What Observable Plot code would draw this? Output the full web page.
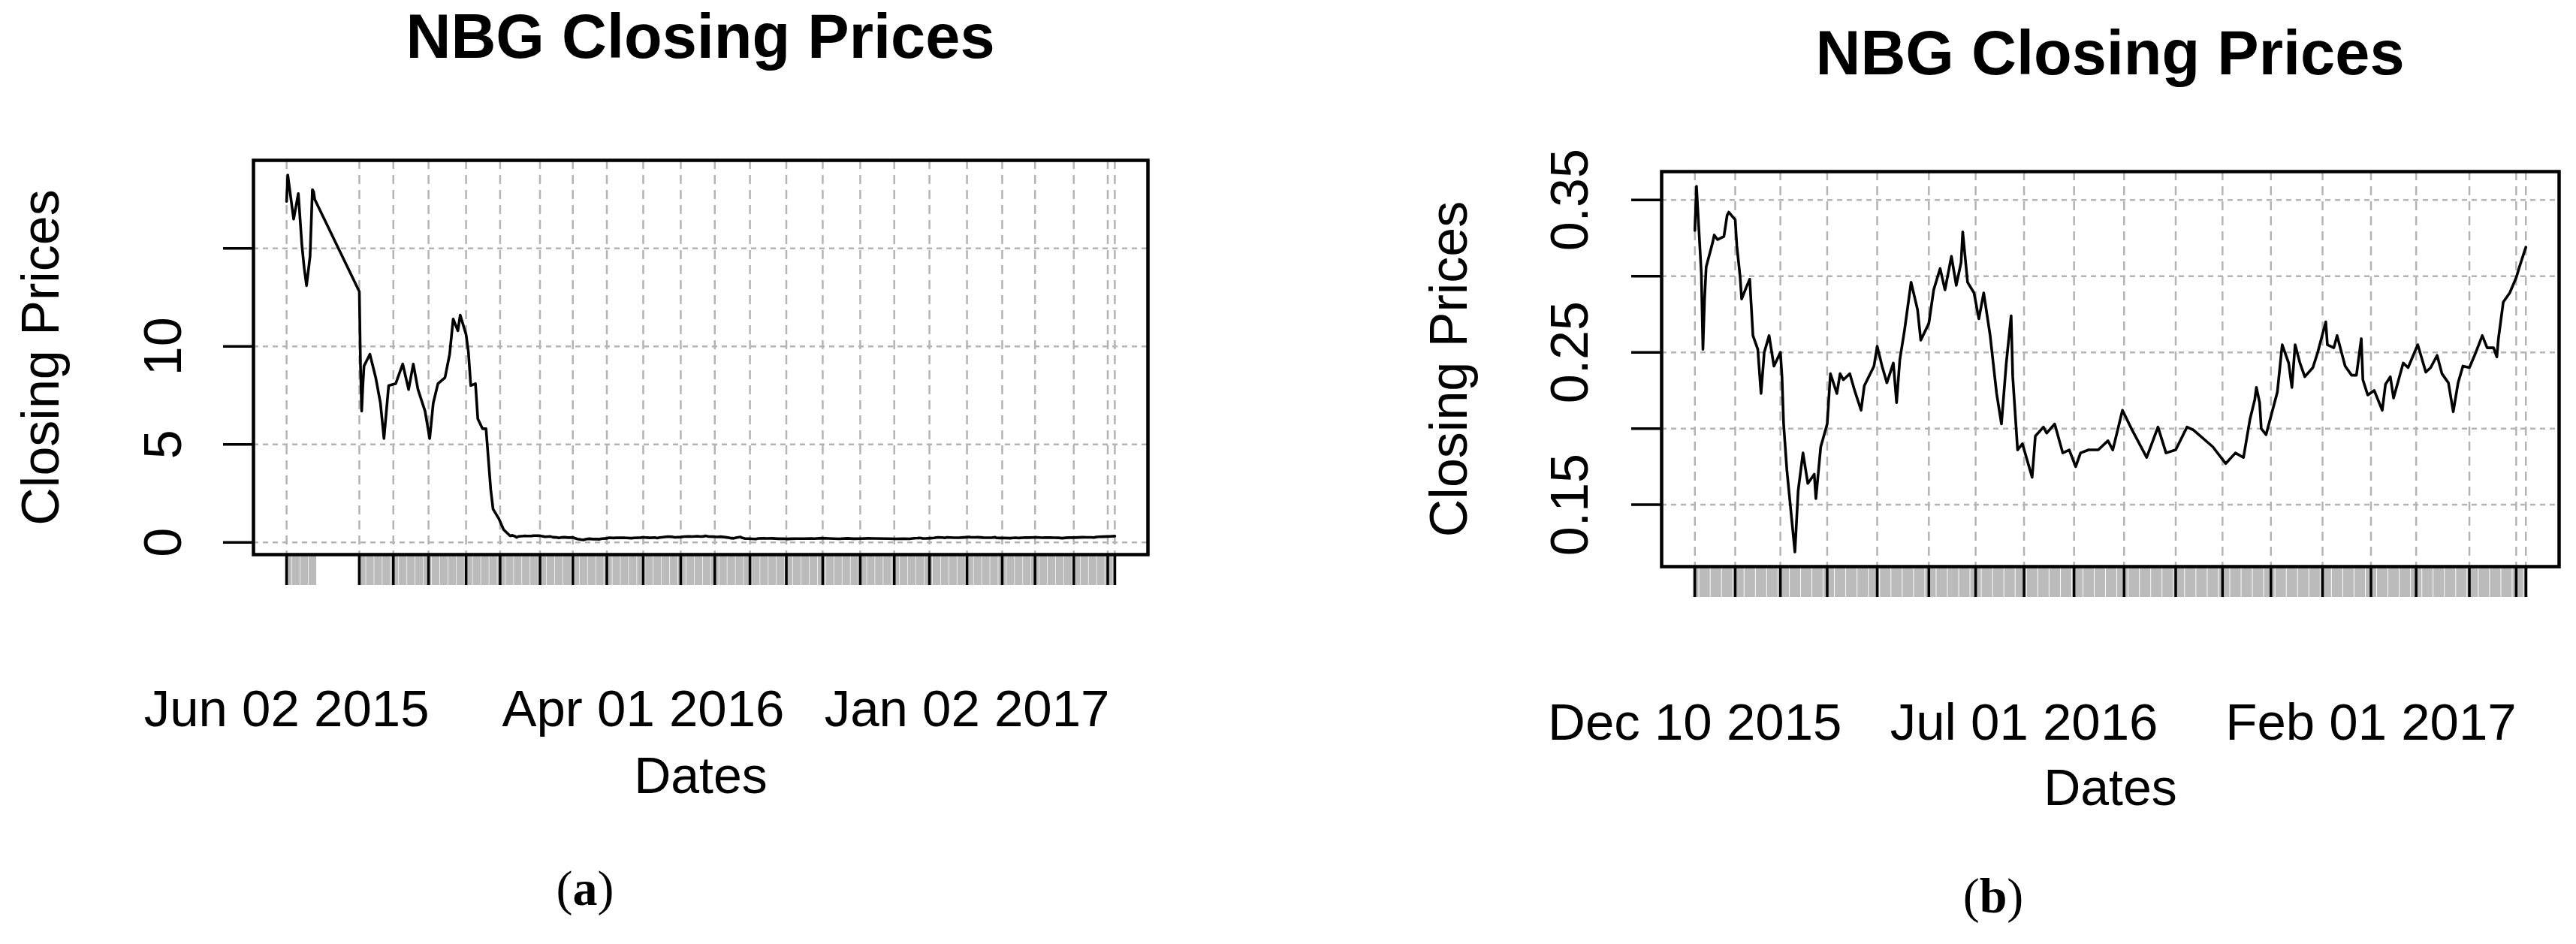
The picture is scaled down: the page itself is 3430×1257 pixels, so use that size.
<!DOCTYPE html>
<html><head><meta charset="utf-8">
<script src="https://cdn.jsdelivr.net/npm/d3@7"></script>
<script src="https://cdn.jsdelivr.net/npm/@observablehq/plot@0.6"></script>
<style>
html,body{margin:0;padding:0;background:#fff;}
#root{position:relative;width:3430px;height:1257px;background:#fff;overflow:hidden;font-family:"Liberation Sans",Arial,sans-serif;}
.title{position:absolute;text-align:center;font-weight:bold;font-size:83px;line-height:83px;color:#000;white-space:nowrap;}
.cap{position:absolute;font-family:"Liberation Serif","Times New Roman",serif;font-size:66px;line-height:66px;color:#000;text-align:center;width:200px;}
.chart{position:absolute;}
</style></head>
<body><div id="root">
<div class="title" style="left:337px;width:1191px;top:7px;">NBG Closing Prices</div>
<div class="title" style="left:2212px;width:1195px;top:29px;">NBG Closing Prices</div>
<div class="chart" id="chartA" style="left:0;top:120px;width:1640px;height:960px;"></div>
<div class="chart" id="chartB" style="left:1700px;top:120px;width:1730px;height:960px;"></div>
<div class="cap" style="left:679px;top:1150px;">(<b>a</b>)</div>
<div class="cap" style="left:2554px;top:1160px;">(<b>b</b>)</div>
</div>
<script>
const yTitle = "Closing Prices";
const xTitle = "Dates";

// Panel (a): closing prices before 10 Dec 2015 (continues with the panel (b) series)
const datesA = ["2015-06-02","2015-06-03","2015-06-08","2015-06-12","2015-06-15","2015-06-17","2015-06-19","2015-06-22","2015-06-24","2015-06-25","2015-06-26",
"2015-08-03","2015-08-04","2015-08-05","2015-08-06","2015-08-07","2015-08-12","2015-08-17","2015-08-21","2015-08-24","2015-08-28",
"2015-09-03","2015-09-09","2015-09-14","2015-09-18","2015-09-22","2015-09-28",
"2015-10-02","2015-10-05","2015-10-09","2015-10-15","2015-10-19","2015-10-22","2015-10-26","2015-10-28",
"2015-11-02","2015-11-04","2015-11-06","2015-11-10","2015-11-12","2015-11-16","2015-11-19","2015-11-23","2015-11-25","2015-11-30",
"2015-12-04","2015-12-09"];
const closeA = [17.4,18.75,16.5,17.8,15.2,14.0,13.1,14.6,18.0,17.9,17.5,
12.8,9.0,6.7,8.0,9.0,9.6,8.4,7.1,5.3,8.0,
8.1,9.1,7.8,9.1,7.8,6.7,
5.3,7.1,8.1,8.4,9.6,11.4,10.8,11.6,
10.6,9.7,8.0,8.1,6.3,5.8,5.8,2.7,1.7,1.2,
0.65,0.36];

// Panel (b): closing prices from 10 Dec 2015
const datesB = ["2015-12-10","2015-12-11","2015-12-14","2015-12-15","2015-12-16","2015-12-17","2015-12-21","2015-12-22","2015-12-24","2015-12-28","2015-12-30","2015-12-31",
"2016-01-04","2016-01-05","2016-01-07","2016-01-08","2016-01-11","2016-01-13","2016-01-15","2016-01-18","2016-01-20","2016-01-22","2016-01-25","2016-01-28",
"2016-02-01","2016-02-02","2016-02-03","2016-02-05","2016-02-10","2016-02-12","2016-02-15","2016-02-18","2016-02-22","2016-02-23","2016-02-26",
"2016-03-01","2016-03-03","2016-03-07","2016-03-09","2016-03-11","2016-03-15","2016-03-18","2016-03-22","2016-03-24","2016-03-30",
"2016-04-01","2016-04-04","2016-04-07","2016-04-11","2016-04-13","2016-04-15","2016-04-18","2016-04-22","2016-04-26","2016-04-28",
"2016-05-03","2016-05-06","2016-05-10","2016-05-13","2016-05-17","2016-05-20","2016-05-23","2016-05-24","2016-05-27","2016-05-31",
"2016-06-03","2016-06-06","2016-06-10","2016-06-14","2016-06-17","2016-06-20","2016-06-23","2016-06-24","2016-06-27","2016-06-30",
"2016-07-06","2016-07-08","2016-07-13","2016-07-15","2016-07-20","2016-07-25","2016-07-29",
"2016-08-02","2016-08-05","2016-08-10","2016-08-16","2016-08-22","2016-08-25","2016-08-31",
"2016-09-06","2016-09-15","2016-09-22","2016-09-27",
"2016-10-03","2016-10-10","2016-10-14","2016-10-26",
"2016-11-03","2016-11-09","2016-11-14","2016-11-18","2016-11-21","2016-11-22","2016-11-24","2016-11-25","2016-11-28",
"2016-12-02","2016-12-05","2016-12-08","2016-12-12","2016-12-14","2016-12-16","2016-12-19","2016-12-22","2016-12-27","2016-12-30",
"2017-01-04","2017-01-05","2017-01-09","2017-01-11","2017-01-16","2017-01-20","2017-01-23","2017-01-26","2017-01-27","2017-01-30",
"2017-02-03","2017-02-08","2017-02-10","2017-02-13","2017-02-15","2017-02-21","2017-02-24",
"2017-03-02","2017-03-07","2017-03-10","2017-03-14","2017-03-17","2017-03-21","2017-03-24","2017-03-27","2017-03-30",
"2017-04-03","2017-04-07","2017-04-11","2017-04-14","2017-04-18","2017-04-20","2017-04-21","2017-04-24","2017-04-28",
"2017-05-02","2017-05-04","2017-05-08"];
const closeB = [0.330,0.359,0.302,0.252,0.285,0.306,0.322,0.327,0.324,0.326,0.340,0.342,
0.337,0.320,0.300,0.285,0.293,0.298,0.261,0.252,0.223,0.250,0.261,0.241,
0.250,0.234,0.203,0.173,0.119,0.159,0.184,0.164,0.170,0.154,0.188,
0.203,0.236,0.223,0.236,0.232,0.236,0.225,0.212,0.228,0.241,
0.254,0.241,0.230,0.243,0.217,0.245,0.265,0.296,0.278,0.258,
0.269,0.291,0.305,0.291,0.313,0.294,0.309,0.329,0.296,0.289,
0.272,0.289,0.261,0.223,0.203,0.243,0.274,0.234,0.186,0.190,
0.168,0.195,0.201,0.197,0.203,0.184,0.186,
0.175,0.184,0.186,0.186,0.192,0.186,0.212,
0.199,0.181,0.201,0.184,
0.186,0.201,0.199,0.188,
0.177,0.184,0.181,0.206,0.219,0.227,0.217,0.200,0.196,
0.212,0.224,0.255,0.243,0.227,0.255,0.243,0.234,0.240,0.250,
0.270,0.255,0.253,0.261,0.241,0.235,0.235,0.259,0.232,0.222,
0.225,0.212,0.229,0.234,0.220,0.243,0.240,
0.255,0.237,0.240,0.248,0.236,0.230,0.211,0.230,0.241,
0.240,0.250,0.261,0.253,0.253,0.247,0.259,0.283,0.289,
0.299,0.306,0.319];

// first observation of each month (major ticks + vertical grid), plus the last observation
const monthTicksA = ["2015-06-02","2015-08-03","2015-09-01","2015-10-01","2015-11-02","2015-12-01",
"2016-01-04","2016-02-01","2016-03-01","2016-04-01","2016-05-03","2016-06-01","2016-07-01","2016-08-01","2016-09-01","2016-10-03","2016-11-01","2016-12-01",
"2017-01-02","2017-02-01","2017-03-01","2017-04-03","2017-05-02","2017-05-08"];
const monthTicksB = ["2015-12-10",
"2016-01-04","2016-02-01","2016-03-01","2016-04-01","2016-05-03","2016-06-01","2016-07-01","2016-08-01","2016-09-01","2016-10-03","2016-11-01","2016-12-01",
"2017-01-02","2017-02-01","2017-03-01","2017-04-03","2017-05-02","2017-05-08"];
const xLabelsA = ["2015-06-02","2016-04-01","2017-01-02"];
const xLabelsB = ["2015-12-10","2016-07-01","2017-02-01"];
const yTicksA = [0, 5, 10, 15];
const yTickLabelsA = ["0", "5", "10", ""];
const yTicksB = [0.15, 0.20, 0.25, 0.30, 0.35];
const yTickLabelsB = ["0.15", "", "0.25", "", "0.35"];
// trading periods (market closed 29 Jun - 31 Jul 2015)
const tradingSpansA = [["2015-06-02","2015-06-26"],["2015-08-03","2017-05-08"]];
const tradingSpansB = [["2015-12-10","2017-05-08"]];

const parse = d3.utcParse("%Y-%m-%d");
const fmt = d3.utcFormat("%b %d %Y");
const rows = (dates, vals) => dates.map((d, i) => ({date: parse(d), close: vals[i]}));
function tradingDays(spans) {
  const out = [];
  for (const [a, b] of spans) {
    for (const d of d3.utcDay.range(parse(a), d3.utcDay.offset(parse(b), 1))) {
      const w = d.getUTCDay();
      if (w !== 0 && w !== 6) out.push(d);
    }
  }
  return out;
}
const padded = ([lo, hi]) => { const s = hi - lo; return [lo - 0.04 * s, hi + 0.04 * s]; };

function chart({data, months, labels, yTicks, yLabels, spans, width, height, margins, rugWidth, labelPad, yPad}) {
  const xd = padded(d3.extent(data, d => +d.date)).map(t => new Date(t));
  const yd = padded(d3.extent(data, d => d.close));
  const ylab = new Map(yTicks.map((t, i) => [t, yLabels[i]]));
  const monthDates = months.map(parse);
  return Plot.plot({
    width, height, ...margins,
    style: {fontFamily: "Liberation Sans, Arial, sans-serif", background: "#fff", color: "#000", overflow: "visible"},
    x: {type: "utc", domain: xd},
    y: {domain: yd},
    marks: [
      Plot.gridY(yTicks, {stroke: "#b4b4b4", strokeOpacity: 1, strokeWidth: 2.5, strokeDasharray: "7,6"}),
      Plot.gridX(monthDates, {stroke: "#b4b4b4", strokeOpacity: 1, strokeWidth: 2.5, strokeDasharray: "12,8"}),
      Plot.axisX(tradingDays(spans), {anchor: "bottom", tickSize: 41, stroke: "#bbbbbb", strokeWidth: rugWidth, fill: "none", label: null}),
      Plot.axisX(monthDates, {anchor: "bottom", tickSize: 41, stroke: "#000", strokeWidth: 3.5, fill: "none", label: null}),
      Plot.axisX(labels.map(parse), {anchor: "bottom", tickSize: 1, stroke: "none", tickPadding: labelPad - 1, tickFormat: fmt, fontSize: 69, label: null}),
      Plot.axisY(yTicks, {anchor: "left", tickSize: 40, tickPadding: yPad, tickRotate: -90, tickFormat: d => ylab.get(d), fontSize: 70, strokeWidth: 3.5, label: null}),
      Plot.line(data, {x: "date", y: "close", stroke: "#000", strokeWidth: 3.6}),
      Plot.frame({stroke: "#000", strokeWidth: 4.5}),
      Plot.text([yTitle], {text: d => d, frameAnchor: "left", dx: -260, rotate: -90, textAnchor: "middle", lineAnchor: "bottom", fontSize: 70}),
      Plot.text([xTitle], {text: d => d, frameAnchor: "bottom", dy: 317, textAnchor: "middle", lineAnchor: "bottom", fontSize: 68})
    ]
  });
}

const dataB = rows(datesB, closeB);
const dataA = rows(datesA, closeA).concat(dataB);

document.getElementById("chartA").append(chart({
  data: dataA, months: monthTicksA, labels: xLabelsA, yTicks: yTicksA, yLabels: yTickLabelsA, spans: tradingSpansA,
  width: 1640, height: 960, margins: {marginLeft: 337, marginRight: 112, marginTop: 93, marginBottom: 342},
  rugWidth: 4, labelPad: 179, yPad: 57
}));
document.getElementById("chartB").append(chart({
  data: dataB, months: monthTicksB, labels: xLabelsB, yTicks: yTicksB, yLabels: yTickLabelsB, spans: tradingSpansB,
  width: 1730, height: 960, margins: {marginLeft: 512, marginRight: 23, marginTop: 108, marginBottom: 326},
  rugWidth: 5.5, labelPad: 181, yPad: 59
}));
</script></body></html>
